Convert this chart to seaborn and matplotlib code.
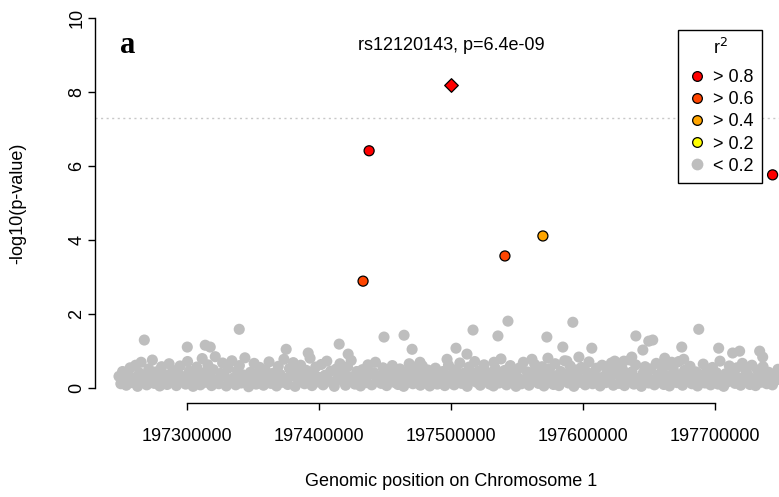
import numpy as np
import pandas as pd
import matplotlib
matplotlib.use("Agg")
import matplotlib.pyplot as plt
from matplotlib.lines import Line2D
import seaborn as sns

# ---------------- data ----------------
lead_snp = "rs12120143"
lead_p_text = "6.4e-09"
lead_pos = 197500000
lead_logp = 8.19

# colored SNPs (position in bp, -log10 p, r2 class)
ld_pos = [197437900, 197433300, 197540900, 197569700, 197743900]
ld_logp = [6.41, 2.89, 3.57, 4.11, 5.76]
ld_class = ["> 0.8", "> 0.6", "> 0.6", "> 0.4", "> 0.8"]

# gray SNPs (r2 < 0.2); positions in kb
gray_kb = [
    197248.2, 197249.6, 197250.9, 197252.4, 197253.7, 197255.3, 197256.6, 197258.1, 197259.5, 197260.8,
    197262.3, 197263.7, 197265.0, 197266.5, 197267.9, 197269.2, 197270.8, 197272.1, 197273.5, 197274.9,
    197276.3, 197277.8, 197279.1, 197280.5, 197282.0, 197283.3, 197284.7, 197286.2, 197287.5, 197289.0,
    197290.3, 197291.7, 197293.2, 197294.5, 197295.9, 197297.4, 197298.7, 197300.2, 197301.5, 197302.9,
    197304.4, 197305.7, 197307.1, 197308.6, 197309.9, 197311.3, 197312.8, 197314.1, 197315.6, 197316.9,
    197318.4, 197319.7, 197321.2, 197322.6, 197323.9, 197325.4, 197326.8, 197328.1, 197329.6, 197331.0,
    197332.4, 197333.8, 197335.2, 197336.7, 197338.0, 197339.5, 197340.9, 197342.2, 197343.7, 197345.1,
    197346.5, 197347.9, 197349.3, 197350.7, 197352.2, 197353.5, 197355.0, 197356.3, 197357.8, 197359.2,
    197360.6, 197362.0, 197363.4, 197364.9, 197366.2, 197367.7, 197369.0, 197370.5, 197371.9, 197373.3,
    197374.7, 197376.2, 197377.5, 197379.0, 197380.4, 197381.8, 197383.2, 197384.6, 197386.0, 197387.5,
    197388.9, 197390.3, 197391.7, 197393.1, 197394.6, 197395.9, 197397.4, 197398.8, 197400.2, 197401.6,
    197403.0, 197404.5, 197405.8, 197407.3, 197408.7, 197410.1, 197411.5, 197413.0, 197414.3, 197415.8,
    197417.2, 197418.6, 197420.0, 197421.5, 197422.8, 197424.3, 197425.7, 197427.1, 197428.5, 197430.0,
    197431.4, 197432.8, 197434.2, 197435.7, 197437.0, 197438.5, 197439.9, 197441.3, 197442.7, 197444.2,
    197445.6, 197447.0, 197448.4, 197449.9, 197451.2, 197452.7, 197454.1, 197455.5, 197456.9, 197458.4,
    197459.8, 197461.2, 197462.6, 197464.1, 197465.4, 197466.9, 197468.3, 197469.7, 197471.1, 197472.6,
    197474.0, 197475.4, 197476.8, 197478.3, 197479.6, 197481.1, 197482.5, 197483.9, 197485.3, 197486.8,
    197488.2, 197489.6, 197491.0, 197492.5, 197493.8, 197495.3, 197496.7, 197498.1, 197499.5, 197501.0,
    197502.4, 197503.8, 197505.2, 197506.7, 197508.0, 197509.5, 197510.9, 197512.3, 197513.7, 197515.2,
    197516.6, 197518.0, 197519.4, 197520.9, 197522.2, 197523.7, 197525.1, 197526.5, 197527.9, 197529.4,
    197530.8, 197532.2, 197533.6, 197535.1, 197536.4, 197537.9, 197539.3, 197540.7, 197542.1, 197543.6,
    197545.0, 197546.4, 197547.8, 197549.3, 197550.6, 197552.1, 197553.5, 197554.9, 197556.3, 197557.8,
    197559.2, 197560.6, 197562.0, 197563.5, 197564.8, 197566.3, 197567.7, 197569.1, 197570.5, 197572.0,
    197573.4, 197574.8, 197576.2, 197577.7, 197579.0, 197580.5, 197581.9, 197583.3, 197584.7, 197586.2,
    197587.6, 197589.0, 197590.4, 197591.9, 197593.2, 197594.7, 197596.1, 197597.5, 197598.9, 197600.4,
    197601.8, 197603.2, 197604.6, 197606.1, 197607.4, 197608.9, 197610.3, 197611.7, 197613.1, 197614.6,
    197616.0, 197617.4, 197618.8, 197620.3, 197621.6, 197623.1, 197624.5, 197625.9, 197627.3, 197628.8,
    197630.2, 197631.6, 197633.0, 197634.5, 197635.8, 197637.3, 197638.7, 197640.1, 197641.5, 197643.0,
    197644.4, 197645.8, 197647.2, 197648.7, 197650.0, 197651.5, 197652.9, 197654.3, 197655.7, 197657.2,
    197658.6, 197660.0, 197661.4, 197662.9, 197664.2, 197665.7, 197667.1, 197668.5, 197669.9, 197671.4,
    197672.8, 197674.2, 197675.6, 197677.1, 197678.4, 197679.9, 197681.3, 197682.7, 197684.1, 197685.6,
    197687.0, 197688.4, 197689.8, 197691.3, 197692.6, 197694.1, 197695.5, 197696.9, 197698.3, 197699.8,
    197701.2, 197702.6, 197704.0, 197705.5, 197706.8, 197708.3, 197709.7, 197711.1, 197712.5, 197714.0,
    197715.4, 197716.8, 197718.2, 197719.7, 197721.0, 197722.5, 197723.9, 197725.3, 197726.7, 197728.2,
    197729.6, 197731.0, 197732.4, 197733.9, 197735.2, 197736.7, 197738.1, 197739.5, 197740.9, 197742.4,
    197743.8, 197745.2, 197746.6, 197748.0,
    # upper scatter
    197267.4, 197339.4, 197300.0, 197313.6, 197317.4, 197375.0, 197391.7, 197415.2, 197422.0, 197449.2,
    197464.4, 197470.5, 197516.7, 197543.2, 197535.6, 197503.8, 197497.0, 197512.1, 197476.5, 197532.6,
    197592.4, 197572.7, 197584.8, 197606.8, 197640.2, 197650.0, 197645.5, 197561.4, 197573.5, 197587.9,
    197597.0, 197624.2, 197631.1, 197637.1, 197687.9, 197653.0, 197675.0, 197676.5, 197703.0, 197713.6,
    197718.9, 197734.1, 197736.4, 197662.1, 197667.4,
]
gray_logp = [
    .32, .12, .45, .20, .08, .38, .55, .15, .27, .62,
    .05, .41, .70, .18, .33, .09, .52, .24, .76, .13,
    .44, .30, .06, .58, .21, .36, .10, .66, .27, .48,
    .15, .07, .39, .60, .22, .31, .11, .72, .46, .19,
    .05, .34, .57, .26, .09, .80, .42, .16, .63, .29,
    .07, .50, .85, .23, .12, .40, .68, .33, .06, .54,
    .18, .74, .28, .09, .47, .61, .14, .36, .82, .21,
    .04, .43, .25, .67, .11, .35, .56, .19, .08, .49,
    .30, .71, .13, .40, .22, .06, .59, .37, .16, .78,
    .26, .10, .53, .33, .69, .05, .44, .20, .62, .31,
    .12, .48, .24, .81, .07, .38, .57, .17, .29, .64,
    .09, .35, .73, .21, .46, .14, .05, .52, .27, .66,
    .40, .18, .08, .58, .31, .75, .22, .11, .45, .34,
    .06, .50, .26, .15, .63, .37, .09, .42, .70, .20,
    .32, .13, .55, .24, .07, .47, .28, .61, .16, .39,
    .10, .52, .30, .05, .44, .19, .66, .35, .12, .57,
    .23, .41, .08, .60, .29, .14, .49, .06, .36, .21,
    .54, .11, .33, .18, .45, .07, .27, .62, .15, .38,
    .09, .50, .24, .68, .13, .40, .31, .05, .57, .20,
    .35, .72, .16, .46, .08, .28, .63, .19, .42, .11,
    .26, .06, .53, .37, .14, .79, .22, .48, .09, .33,
    .61, .17, .40, .05, .29, .55, .12, .70, .24, .44,
    .08, .36, .21, .64, .47, .13, .30, .58, .06, .41,
    .18, .52, .27, .10, .66, .34, .07, .45, .23, .74,
    .38, .14, .60, .25, .05, .49, .31, .16, .56, .20,
    .09, .43, .71, .28, .12, .37, .54, .19, .06, .62,
    .32, .15, .47, .24, .68, .08, .39, .55, .13, .29,
    .50, .07, .35, .21, .76, .44, .11, .63, .26, .17,
    .05, .41, .58, .30, .14, .52, .23, .09, .67, .36,
    .19, .46, .10, .61, .33, .06, .27, .54, .40, .15,
    .72, .24, .08, .48, .35, .18, .59, .12, .31, .44,
    .06, .37, .22, .65, .14, .50, .29, .09, .56, .20,
    .42, .11, .73, .26, .05, .39, .17, .60, .32, .47,
    .13, .55, .28, .08, .67, .21, .45, .34, .10, .62,
    .25, .07, .49, .36, .16, .58, .30, .12, .43, .20,
    .09, .38, .22, .51,
    1.30, 1.59, 1.11, 1.16, 1.11, 1.05, 0.95, 1.19, 0.92, 1.38,
    1.43, 1.05, 1.57, 1.81, 1.41, 1.08, 0.78, 0.92, 0.70, 0.70,
    1.78, 1.38, 1.11, 1.08, 1.41, 1.27, 1.03, 0.78, 0.81, 0.73,
    0.84, 0.73, 0.73, 0.84, 1.59, 1.30, 1.11, 0.78, 1.08, 0.95,
    1.00, 1.00, 0.84, 0.81, 0.70,
]

x_ticks = [197300000, 197400000, 197500000, 197600000, 197700000]
y_ticks = [0, 2, 4, 6, 8, 10]
gw_threshold = 7.30  # -log10(5e-8)

legend_labels = ["> 0.8", "> 0.6", "> 0.4", "> 0.2", "< 0.2"]
legend_colors = ["#FF0000", "#FF4500", "#FFA500", "#FFFF00", "#BEBEBE"]

# ---------------- plot ----------------
sns.set_style("white")
plt.rcParams["font.family"] = ["Liberation Sans", "DejaVu Sans"]
plt.rcParams["text.color"] = "black"
plt.rcParams["axes.labelcolor"] = "black"
plt.rcParams["xtick.color"] = "black"
plt.rcParams["ytick.color"] = "black"

fig = plt.figure(figsize=(7.79, 4.97), dpi=100)
W, H = 779, 497
ax_l, ax_r, ax_b, ax_t = 95, 807, 403, 3
ax = fig.add_axes([ax_l / W, 1 - ax_b / H, (ax_r - ax_l) / W, (ax_b - ax_t) / H])

gray_df = pd.DataFrame({"pos": np.array(gray_kb) * 1000, "logp": gray_logp})
ld_df = pd.DataFrame({"pos": ld_pos, "logp": ld_logp, "r2": ld_class})
lead_df = pd.DataFrame({"pos": [lead_pos], "logp": [lead_logp], "r2": ["> 0.8"]})

ax.axhline(gw_threshold, color="#C8C8C8", lw=1.0, ls=(0, (1.5, 2.5)), zorder=1)

sns.scatterplot(data=gray_df, x="pos", y="logp", color="#BEBEBE", s=64,
                edgecolor="none", linewidth=0, ax=ax, zorder=2)
palette = dict(zip(legend_labels, legend_colors))
sns.scatterplot(data=ld_df, x="pos", y="logp", hue="r2", palette=palette, s=52,
                edgecolor="black", linewidth=0.9, marker="o", ax=ax, zorder=3,
                legend=False)
sns.scatterplot(data=lead_df, x="pos", y="logp", hue="r2", palette=palette, s=48,
                edgecolor="black", linewidth=0.9, marker="D", ax=ax, zorder=4,
                legend=False)

ax.set_xlim(197230000, 197770000)
ax.set_ylim(-0.4, 10.4)

for s in ["top", "right"]:
    ax.spines[s].set_visible(False)
for s in ["left", "bottom"]:
    ax.spines[s].set_color("black")
    ax.spines[s].set_linewidth(1.0)
ax.spines["left"].set_bounds(0, 10)
ax.spines["bottom"].set_bounds(x_ticks[0], x_ticks[-1])

ax.set_xticks(x_ticks)
ax.set_xticklabels([str(t) for t in x_ticks])
ax.set_yticks(y_ticks)
ax.set_yticklabels([str(t) for t in y_ticks], rotation=90, va="center")
ax.tick_params(axis="both", which="both", direction="out", length=5, width=1.0,
               color="black", labelsize=13, labelcolor="black",
               bottom=True, left=True, top=False, right=False)
ax.tick_params(axis="x", pad=13)
ax.tick_params(axis="y", pad=2)

ax.set_xlabel("Genomic position on Chromosome 1", fontsize=13, color="black")
ax.set_ylabel("-log10(p-value)", fontsize=13, color="black")
ax.xaxis.set_label_coords(0.5, (ax_b - 481) / (ax_b - ax_t))
ax.xaxis.label.set_va("center")
ax.yaxis.set_label_coords((18 - ax_l) / (ax_r - ax_l), 0.5)
ax.yaxis.label.set_va("center")

ax.text(lead_pos, 9.24, f"{lead_snp}, p={lead_p_text}", ha="center", va="center",
        fontsize=13, color="black")
ax.text(0.046, (ax_b - 46) / (ax_b - ax_t), "a", transform=ax.transAxes,
        ha="center", va="center", fontsize=22, fontweight="bold", color="black",
        family=["Liberation Serif", "DejaVu Serif"])

handles = []
for lab, col in zip(legend_labels, legend_colors):
    if lab == "< 0.2":
        handles.append(Line2D([], [], ls="none", marker="o", markersize=8.5,
                              markerfacecolor=col, markeredgecolor="none"))
    else:
        handles.append(Line2D([], [], ls="none", marker="o", markersize=7,
                              markerfacecolor=col, markeredgecolor="black",
                              markeredgewidth=0.9))
leg = fig.legend(handles, legend_labels, title="r$^2$", loc="upper right",
                 bbox_to_anchor=(762 / W, 1 - 30 / H), bbox_transform=fig.transFigure,
                 fontsize=13, title_fontsize=13, frameon=True, fancybox=False,
                 framealpha=1, edgecolor="black", borderpad=0.45, labelspacing=0.28,
                 handletextpad=0.3, handlelength=1.2, borderaxespad=0)
leg.get_frame().set_linewidth(1.0)
leg._legend_box.sep = 8
for t in leg.get_texts():
    t.set_color("black")
leg.get_title().set_color("black")

fig.savefig("out.png", dpi=100)
